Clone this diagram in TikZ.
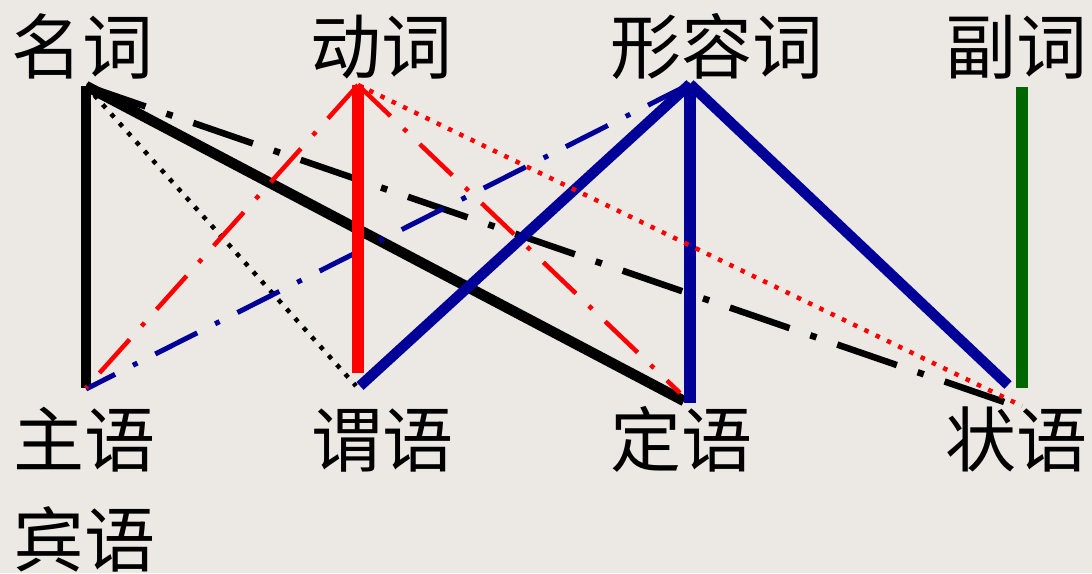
\documentclass[tikz,border=0pt]{standalone}
\usepackage{fontspec}
\newfontfamily\cjk{Noto Sans CJK SC}
\definecolor{bgc}{RGB}{236,232,228}
\definecolor{dblue}{RGB}{0,0,153}
\definecolor{dgreen}{RGB}{0,102,0}
\definecolor{pred}{RGB}{255,0,0}
\begin{document}
\begin{tikzpicture}[x=1pt,y=-1pt,
  lbl/.style={anchor=base,inner sep=0pt,font=\cjk\fontsize{71}{71}\selectfont},
  thickline/.style={line width=10.5pt},
  dashdotA/.style={line width=6.5pt,dash pattern=on 63pt off 22pt on 6.5pt off 22pt},
  dashdotB/.style={line width=4.5pt,dash pattern=on 45pt off 18pt on 4.5pt off 18pt},
  dashdotC/.style={line width=5pt,dash pattern=on 47pt off 20pt on 5pt off 20pt},
  dotline/.style={line width=4.5pt,dash pattern=on 4.5pt off 8pt},
]
\fill[bgc] (0,0) rectangle (1092,573);
\useasboundingbox (0,0) rectangle (1092,573);
% labels
\node[lbl] (ming) at (83,73) {名词};
\node[lbl] (dong) at (381,73) {动词};
\node[lbl] (xing) at (717,73) {形容词};
\node[lbl] (fu) at (1016,73) {副词};
\node[lbl] (zhu) at (84,466) {主语};
\node[lbl] (bin) at (84,566) {宾语};
\node[lbl] (wei) at (382,466) {谓语};
\node[lbl] (ding) at (681,466) {定语};
\node[lbl] (zhuang) at (1016,466) {状语};
% anchor points
\coordinate (N) at (86,86);
\coordinate (V) at (358,85);
\coordinate (A) at (690,84);
\coordinate (Ft) at (1022,87);
\coordinate (Fb) at (1022,388);
\coordinate (nS) at (86,388);
\coordinate (nP) at (356,386);
\coordinate (nD) at (684,401);
\coordinate (nZ) at (1010,404);
\coordinate (vS) at (86,388);
\coordinate (vP) at (358,373);
\coordinate (vD) at (680,393);
\coordinate (vZ) at (1022,406);
\coordinate (aS) at (86,389);
\coordinate (aP) at (360,386);
\coordinate (aD) at (690,403);
\coordinate (aZ) at (1008,385);
% black
\draw[black,line width=9.5pt] (N) -- (nS);
\draw[black,thickline] (N) -- (nD);
\draw[black,dotline] (N) -- (nP);
\draw[black,dashdotA] (N) -- (nZ);
% blue
\draw[dblue,dashdotC] (A) -- (aS);
\draw[dblue,thickline] (A) -- (aP);
\draw[dblue,line width=11.5pt] (A) -- (aD);
\draw[dblue,thickline] (A) -- (aZ);
% red
\draw[pred,line width=12pt] (V) -- (vP);
\draw[pred,dashdotB] (V) -- (vS);
\draw[pred,dashdotB] (V) -- (vD);
\draw[pred,dotline] (V) -- (vZ);
% green
\draw[dgreen,line width=12pt] (Ft) -- (Fb);
\end{tikzpicture}
\end{document}
